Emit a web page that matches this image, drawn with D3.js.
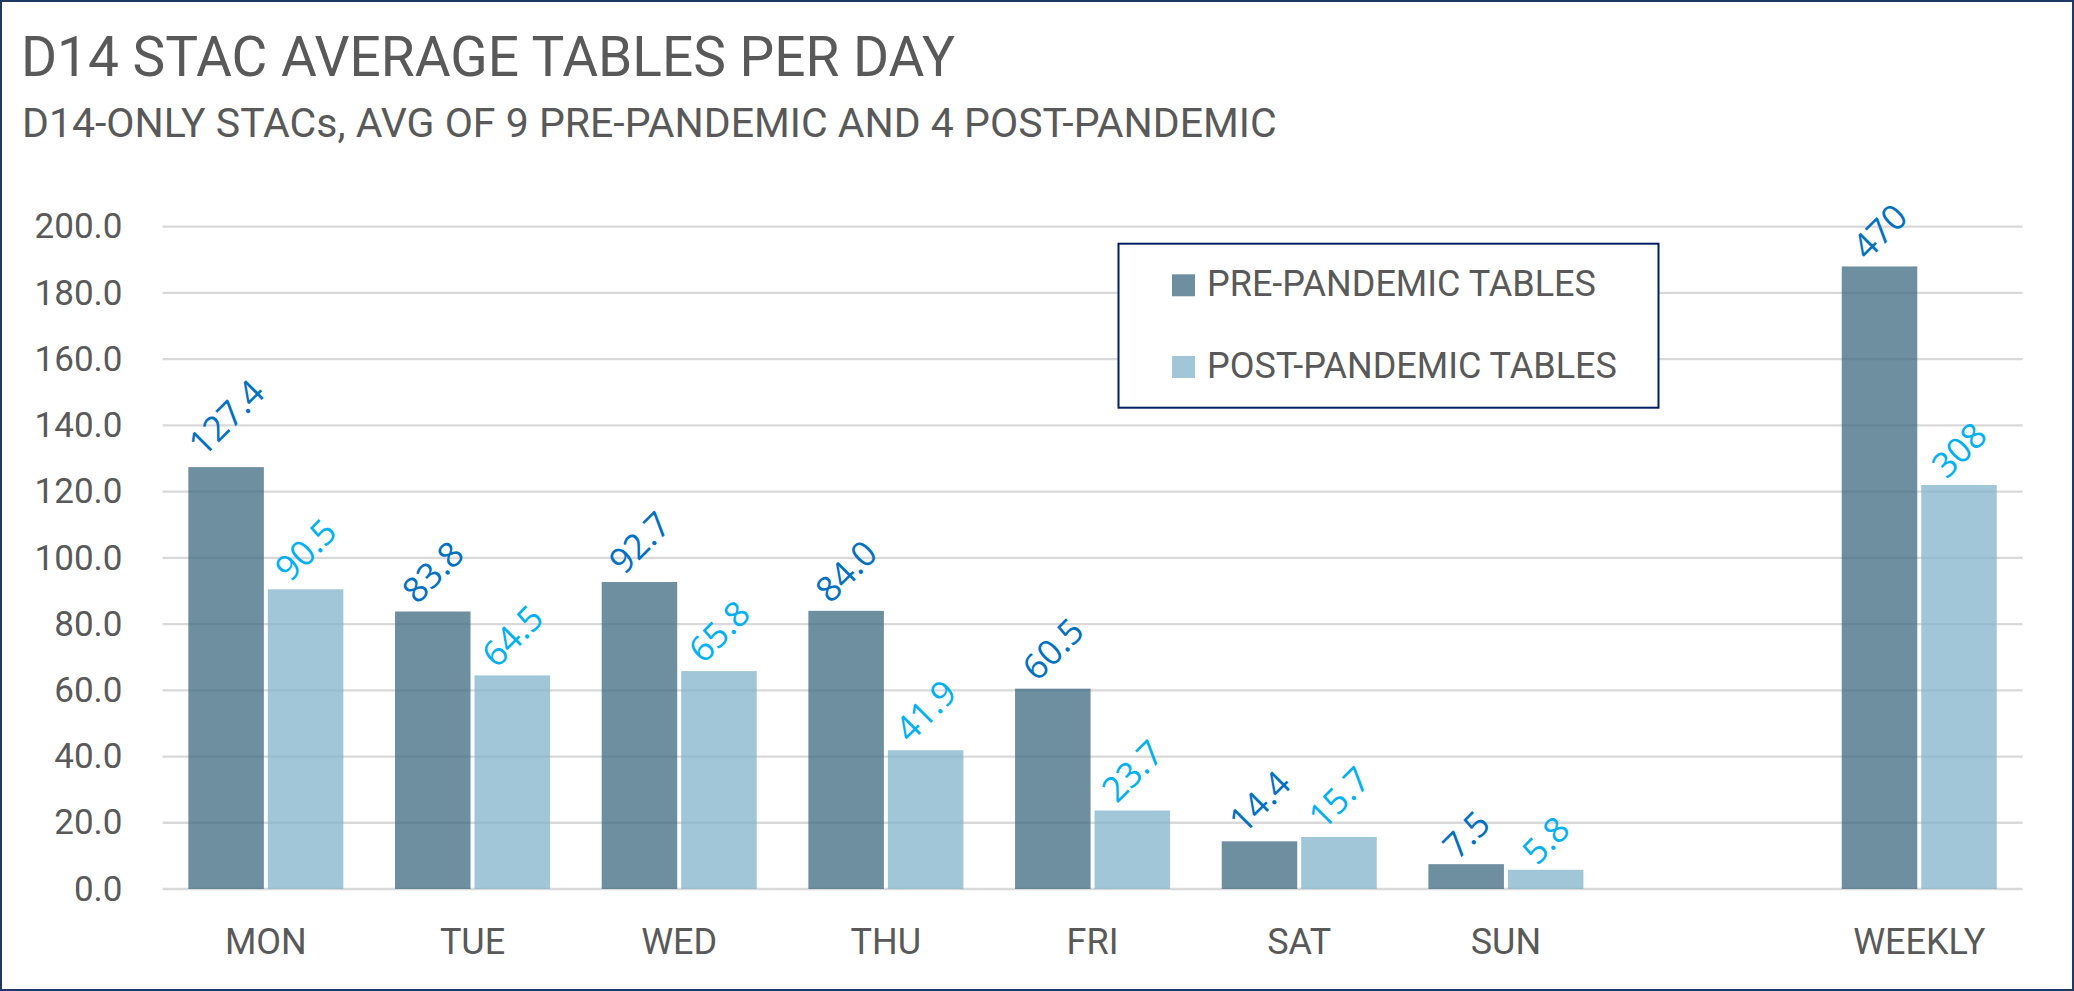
<!DOCTYPE html>
<html>
<head>
<meta charset="utf-8">
<script src="https://cdn.jsdelivr.net/npm/d3@7"></script>
<style>
  html, body { margin: 0; padding: 0; background: #fff; }
  svg { display: block; }
</style>
</head>
<body>
<script>
// ---- data ----
const categories = ["MON", "TUE", "WED", "THU", "FRI", "SAT", "SUN", "", "WEEKLY"];
const seriesNames = ["PRE-PANDEMIC TABLES", "POST-PANDEMIC TABLES"];
const preValues  = [127.4, 83.8, 92.7, 84.0, 60.5, 14.4, 7.5, null, 188.0];
const postValues = [90.5, 64.5, 65.8, 41.9, 23.7, 15.7, 5.8, null, 122.0];
const preLabels  = ["127.4", "83.8", "92.7", "84.0", "60.5", "14.4", "7.5", "", "470"];
const postLabels = ["90.5", "64.5", "65.8", "41.9", "23.7", "15.7", "5.8", "", "308"];
const yTicks = [0, 20, 40, 60, 80, 100, 120, 140, 160, 180, 200];
const titleText = "D14 STAC AVERAGE TABLES PER DAY";
const subtitleText = "D14-ONLY STACs, AVG OF 9 PRE-PANDEMIC AND 4 POST-PANDEMIC";

// ---- layout ----
const W = 2074, H = 991;
const plot = { left: 162.5, right: 2022.6, top: 226.7, bottom: 889 };
const barColors = ["#3E6A80", "#80B3CB"];
const barOpacity = 0.75;
const labelColors = ["#0070C0", "#00B0F0"];
const textColor = "#595959";
const FONT = "Roboto, 'Liberation Sans', Arial, sans-serif";
const LABEL_FONT = "'Open Sans', Roboto, sans-serif";

const svg = d3.select("body").append("svg").attr("width", W).attr("height", H);

svg.append("rect").attr("x", 1).attr("y", 1).attr("width", W - 2).attr("height", H - 2)
  .attr("fill", "#fff").attr("stroke", "#1F3864").attr("stroke-width", 2);

svg.append("text").attr("x", 21).attr("y", 76).text(titleText)
  .attr("font-family", FONT).attr("font-size", 55).attr("fill", textColor);
svg.append("text").attr("x", 22).attr("y", 137).text(subtitleText)
  .attr("font-family", FONT).attr("font-size", 41).attr("fill", textColor);

const y = d3.scaleLinear().domain([0, 200]).range([plot.bottom, plot.top]);
const x0 = d3.scaleBand().domain(categories).range([plot.left, plot.right])
  .paddingInner(0.25).paddingOuter(0.125);
const x1 = d3.scaleBand().domain([0, 1]).range([0, x0.bandwidth()]).paddingInner(0.05);

// gridlines
svg.append("g").selectAll("line").data(yTicks).join("line")
  .attr("x1", plot.left).attr("x2", plot.right)
  .attr("y1", d => y(d)).attr("y2", d => y(d))
  .attr("stroke", "#D9D9D9").attr("stroke-width", 2.3);

// y axis
const yAxis = svg.append("g").attr("transform", `translate(${plot.left},0)`)
  .call(d3.axisLeft(y).tickValues(yTicks).tickFormat(d3.format(".1f")).tickSize(0).tickPadding(40));
yAxis.select(".domain").remove();
yAxis.selectAll("text").attr("font-family", FONT).attr("font-size", 35).attr("fill", textColor)
  .attr("dy", "0.32em");

// x axis
const xAxis = svg.append("g").attr("transform", `translate(0,${plot.bottom})`)
  .call(d3.axisBottom(x0).tickSize(0));
xAxis.select(".domain").remove();
xAxis.selectAll("text").attr("font-family", FONT).attr("font-size", 36).attr("fill", textColor)
  .attr("y", 65).attr("dy", "0");

// bars
const series = [preValues, postValues];
const labels = [preLabels, postLabels];
const rows = [];
categories.forEach((c, i) => {
  series.forEach((vals, s) => {
    if (vals[i] != null) rows.push({ cat: c, s, v: vals[i], label: labels[s][i] });
  });
});

svg.append("g").selectAll("rect").data(rows).join("rect")
  .attr("x", d => x0(d.cat) + x1(d.s))
  .attr("width", x1.bandwidth())
  .attr("y", d => y(d.v))
  .attr("height", d => y(0) - y(d.v))
  .attr("fill", d => barColors[d.s])
  .attr("fill-opacity", barOpacity);

// data labels (rotated)
const lbl = svg.append("g").selectAll("text").data(rows).join("text")
  .text(d => d.label)
  .attr("font-family", LABEL_FONT).attr("font-size", 35)
  .attr("fill", d => labelColors[d.s])
  .attr("text-anchor", "middle").attr("dy", "0.36em");
lbl.each(function(d) {
  const L = this.getComputedTextLength();
  const cx = x0(d.cat) + x1(d.s) + x1.bandwidth() / 2;
  const cy = y(d.v) - (0.5 * L + 5);
  d3.select(this).attr("transform", `translate(${cx},${cy}) rotate(-45)`);
});

// legend
const lg = svg.append("g");
lg.append("rect").attr("x", 1118.5).attr("y", 243.7).attr("width", 540).attr("height", 164)
  .attr("fill", "#fff").attr("stroke", "#002060").attr("stroke-width", 2);
const items = lg.selectAll("g.item").data(seriesNames).join("g").attr("class", "item")
  .attr("transform", (d, i) => `translate(1172,${274.3 + i * 81.7})`);
items.append("rect").attr("width", 23).attr("height", 22)
  .attr("fill", (d, i) => barColors[i]).attr("fill-opacity", barOpacity);
items.append("text").attr("x", 35).attr("y", 22).text(d => d)
  .attr("font-family", FONT).attr("font-size", 36).attr("fill", textColor);
</script>
</body>
</html>
